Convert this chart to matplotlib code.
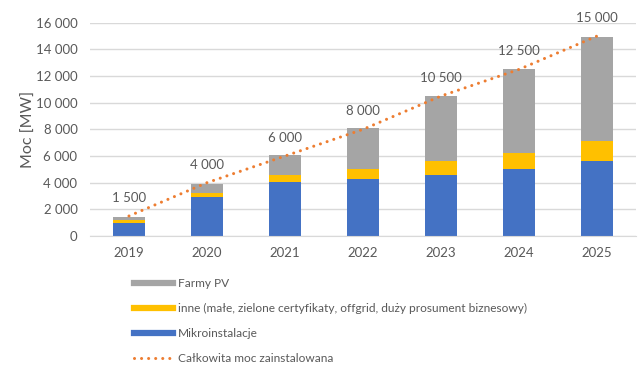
import matplotlib.pyplot as plt
from matplotlib.lines import Line2D
import numpy as np

plt.rcParams['font.family'] = ['Lato', 'DejaVu Sans']

years = ["2019", "2020", "2021", "2022", "2023", "2024", "2025"]
mikro = [950, 2900, 4050, 4250, 4550, 5000, 5650]
inne = [250, 350, 500, 780, 1050, 1250, 1450]
farmy = [250, 650, 1550, 3050, 4900, 6300, 7850]
total = [1500, 4000, 6000, 8000, 10500, 12500, 15000]

c_blue = "#4472C4"
c_yellow = "#FFC000"
c_gray = "#A5A5A5"
c_orange = "#ED7D31"
c_text = "#595959"

fig = plt.figure(figsize=(6.39, 3.73), dpi=100)
ax = fig.add_axes([0.1408, 0.3673, 0.8545, 0.5717])

x = np.arange(len(years))
w = 0.4
mikro = np.array(mikro)
inne = np.array(inne)
farmy = np.array(farmy)
ax.bar(x, mikro, w, color=c_blue, zorder=2)
ax.bar(x, inne, w, bottom=mikro, color=c_yellow, zorder=2)
ax.bar(x, farmy, w, bottom=mikro + inne, color=c_gray, zorder=2)
ax.plot(x, total, color=c_orange, lw=2.2, linestyle=(0, (0.01, 2.3)),
        dash_capstyle='round', zorder=3)

def fmt(v):
    return f"{v:,.0f}".replace(",", " ")

for xi, t in zip(x, total):
    ax.annotate(fmt(t), (xi, t), xytext=(0, 13), textcoords='offset points',
                ha='center', va='center', fontsize=9.5, color=c_text)

ax.set_xlim(-0.5, len(years) - 0.5)
ax.set_ylim(0, 16000)
yt = np.arange(0, 16001, 2000)
ax.set_yticks(yt)
ax.set_yticklabels([fmt(v) for v in yt])
ax.set_xticks(x)
ax.set_xticklabels(years)
ax.tick_params(axis='both', length=0, labelsize=9.5, colors=c_text)
ax.tick_params(axis='y', pad=9)
ax.tick_params(axis='x', pad=8)
ax.grid(axis='y', color="#D9D9D9", lw=1, zorder=0)
for s in ['top', 'right', 'left']:
    ax.spines[s].set_visible(False)
ax.spines['bottom'].set_color("#D9D9D9")
ax.set_ylabel("Moc [MW]", fontsize=11.5, color=c_text, labelpad=0)

handles = [
    Line2D([], [], color=c_gray, lw=4.5),
    Line2D([], [], color=c_yellow, lw=4.5),
    Line2D([], [], color=c_blue, lw=4.5),
    Line2D([], [], color=c_orange, lw=2.2, linestyle=(0, (0.01, 2.3)), dash_capstyle='round'),
]
labels = ["Farmy PV",
          "inne (małe, zielone certyfikaty, offgrid, duży prosument biznesowy)",
          "Mikroinstalacje",
          "Całkowita moc zainstalowana"]
leg = fig.legend(handles, labels, loc='upper left', bbox_to_anchor=(0.203, 0.268),
                 frameon=False, fontsize=8.6, handlelength=3.2, handletextpad=0.45,
                 labelspacing=1.17, borderaxespad=0)
for t in leg.get_texts():
    t.set_color(c_text)

fig.savefig("out.png", dpi=100)
